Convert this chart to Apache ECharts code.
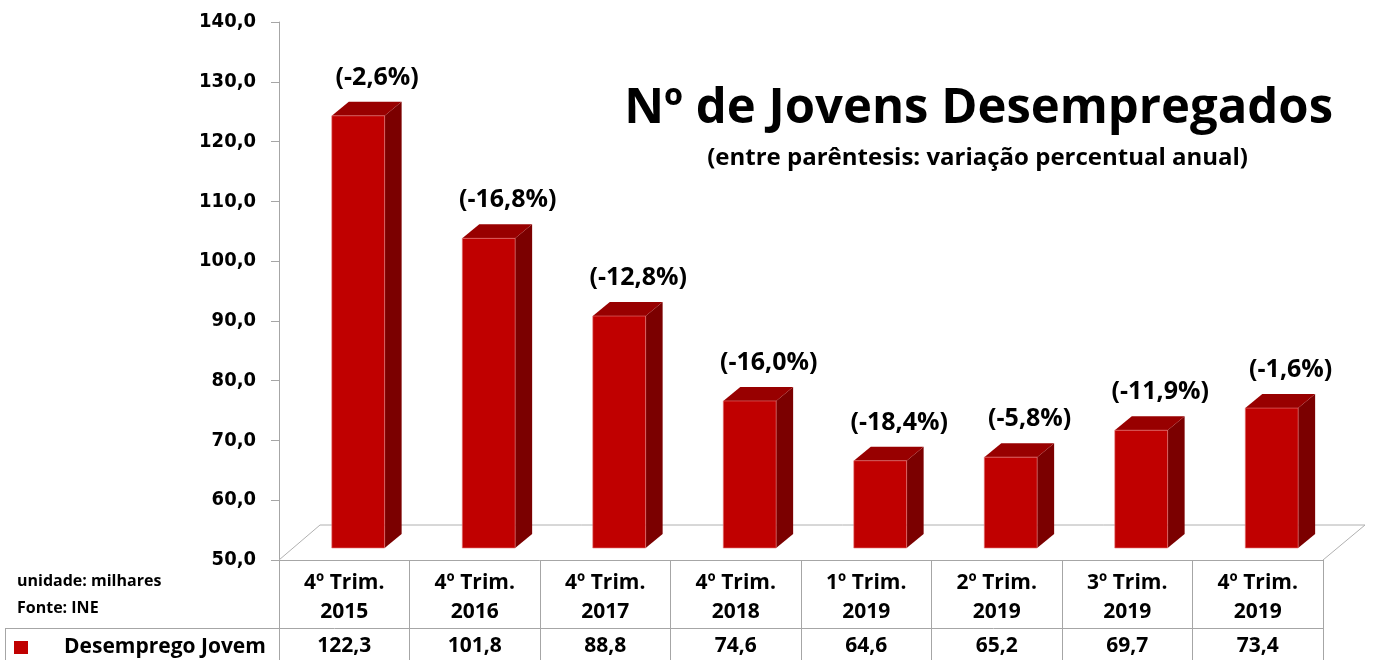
<!DOCTYPE html>
<html><head><meta charset="utf-8">
<script src="https://cdn.jsdelivr.net/npm/echarts@6/dist/echarts.min.js"></script>
<style>html,body{margin:0;padding:0;background:#fff}#c{width:1373px;height:660px}</style>
</head><body><div id="c"></div>
<script>
const categories = ['4º Trim.\n2015','4º Trim.\n2016','4º Trim.\n2017','4º Trim.\n2018','1º Trim.\n2019','2º Trim.\n2019','3º Trim.\n2019','4º Trim.\n2019'];
const values = [122.3, 101.8, 88.8, 74.6, 64.6, 65.2, 69.7, 73.4];
const pctLabels = ['(-2,6%)','(-16,8%)','(-12,8%)','(-16,0%)','(-18,4%)','(-5,8%)','(-11,9%)','(-1,6%)'];
const seriesName = 'Desemprego Jovem';
const yMin = 50, yMax = 140, yStep = 10;

const fmt = v => v.toFixed(1).replace('.', ',');
const F = '"Open Sans", sans-serif';
const chart = echarts.init(document.getElementById('c'));

chart.setOption({
  animation: false,
  title: [
    {text: 'Nº de Jovens Desempregados', right: 40, top: 85, padding: 0, textStyle: {fontFamily: F, fontWeight: 'bold', fontSize: 49, color: '#000'}},
    {text: '(entre parêntesis: variação percentual anual)', right: 125, top: 146, padding: 0, textStyle: {fontFamily: F, fontWeight: 'bold', fontSize: 24, color: '#000'}},
    {text: 'unidade: milhares', left: 17, top: 573, padding: 0, textStyle: {fontFamily: F, fontWeight: 'bold', fontSize: 16, color: '#000'}},
    {text: 'Fonte: INE', left: 17, top: 600, padding: 0, textStyle: {fontFamily: F, fontWeight: 'bold', fontSize: 16, color: '#000'}}
  ],
  legend: {
    left: 14, top: 637, padding: 0, icon: 'rect', itemWidth: 14, itemHeight: 13,
    textStyle: {fontFamily: F, fontWeight: 'bold', fontSize: 21, color: '#000', padding: [0, 0, 0, 31]},
    data: [seriesName]
  },
  grid: {left: 279, right: 50, top: 22, bottom: 100},
  xAxis: [
    {type: 'category', data: categories, position: 'bottom',
      axisLine: {show: true, lineStyle: {color: '#a6a6a6'}},
      axisTick: {show: true, length: 100, lineStyle: {color: '#a6a6a6'}},
      axisLabel: {interval: 0, margin: 9, lineHeight: 29, fontFamily: F, fontWeight: 'bold', fontSize: 21, color: '#000'}},
    {type: 'category', data: values.map(fmt), position: 'bottom', offset: 68,
      axisLine: {show: false}, axisTick: {show: false},
      axisLabel: {interval: 0, margin: 8, fontFamily: F, fontWeight: 'bold', fontSize: 21, color: '#000'}}
  ],
  yAxis: {
    type: 'value', min: yMin, max: yMax, interval: yStep,
    axisLine: {show: true, lineStyle: {color: '#a6a6a6'}},
    axisTick: {show: true, length: 8, lineStyle: {color: '#a6a6a6'}},
    splitLine: {show: false},
    axisLabel: {margin: 23, formatter: v => fmt(v), fontFamily: '"DejaVu Sans Condensed", "DejaVu Sans", sans-serif', fontWeight: 'bold', fontSize: 20, color: '#000'}
  },
  graphic: [
    {type: 'line', shape: {x1: 5, y1: 628.5, x2: 1323, y2: 628.5}, style: {stroke: '#a6a6a6', lineWidth: 1}},
    {type: 'line', shape: {x1: 5.5, y1: 628, x2: 5.5, y2: 660}, style: {stroke: '#a6a6a6', lineWidth: 1}}
  ],
  series: [
    {
      type: 'custom', name: 'floor', silent: true, legendHoverLink: false,
      data: [[0, yMin]],
      renderItem: (params, api) => {
        const cs = params.coordSys;
        const bx = cs.x, by = cs.y + cs.height, w = cs.width;
        return {type: 'polyline', shape: {points: [[bx, by], [bx + 41, by - 35], [bx + w + 42, by - 35], [bx + w, by]]},
          style: {stroke: '#b0b0b0', lineWidth: 1, fill: null}};
      },
      z: 1
    },
    {
      type: 'custom', name: seriesName,
      itemStyle: {color: '#c00000'},
      data: values.map((v, i) => [i, v]),
      encode: {x: 0, y: 1},
      renderItem: (params, api) => {
        const idx = api.value(0), v = api.value(1);
        const base = api.coord([idx, yMin]);
        const top = api.coord([idx, v]);
        const bw = api.size([1, 0])[0];
        const w = bw * 0.405, ox = bw * 0.107, oy = -12, dx = 17, dy = -14;
        const x0 = top[0] + ox - w / 2, x1 = x0 + w;
        const yT = top[1] + oy, yB = base[1] + oy;
        return {type: 'group', children: [
          {type: 'polygon', shape: {points: [[x1, yT], [x1 + dx, yT + dy], [x1 + dx, yB + dy], [x1, yB]]}, style: {fill: '#7b0000'}},
          {type: 'polygon', shape: {points: [[x0, yT], [x0 + dx, yT + dy], [x1 + dx, yT + dy], [x1, yT]]}, style: {fill: '#980000'}},
          {type: 'rect', shape: {x: x0, y: yT, width: w, height: yB - yT}, style: {fill: '#c00000', stroke: 'rgba(230,120,120,0.6)', lineWidth: 1}},
          {type: 'text', x: x0 + w / 2 + 19, y: yT + dy - 24,
            style: {text: pctLabels[params.dataIndex], align: 'center', verticalAlign: 'middle', fontFamily: F, fontWeight: 'bold', fontSize: 25, fill: '#000'}}
        ]};
      },
      z: 2
    }
  ]
});
</script></body></html>
